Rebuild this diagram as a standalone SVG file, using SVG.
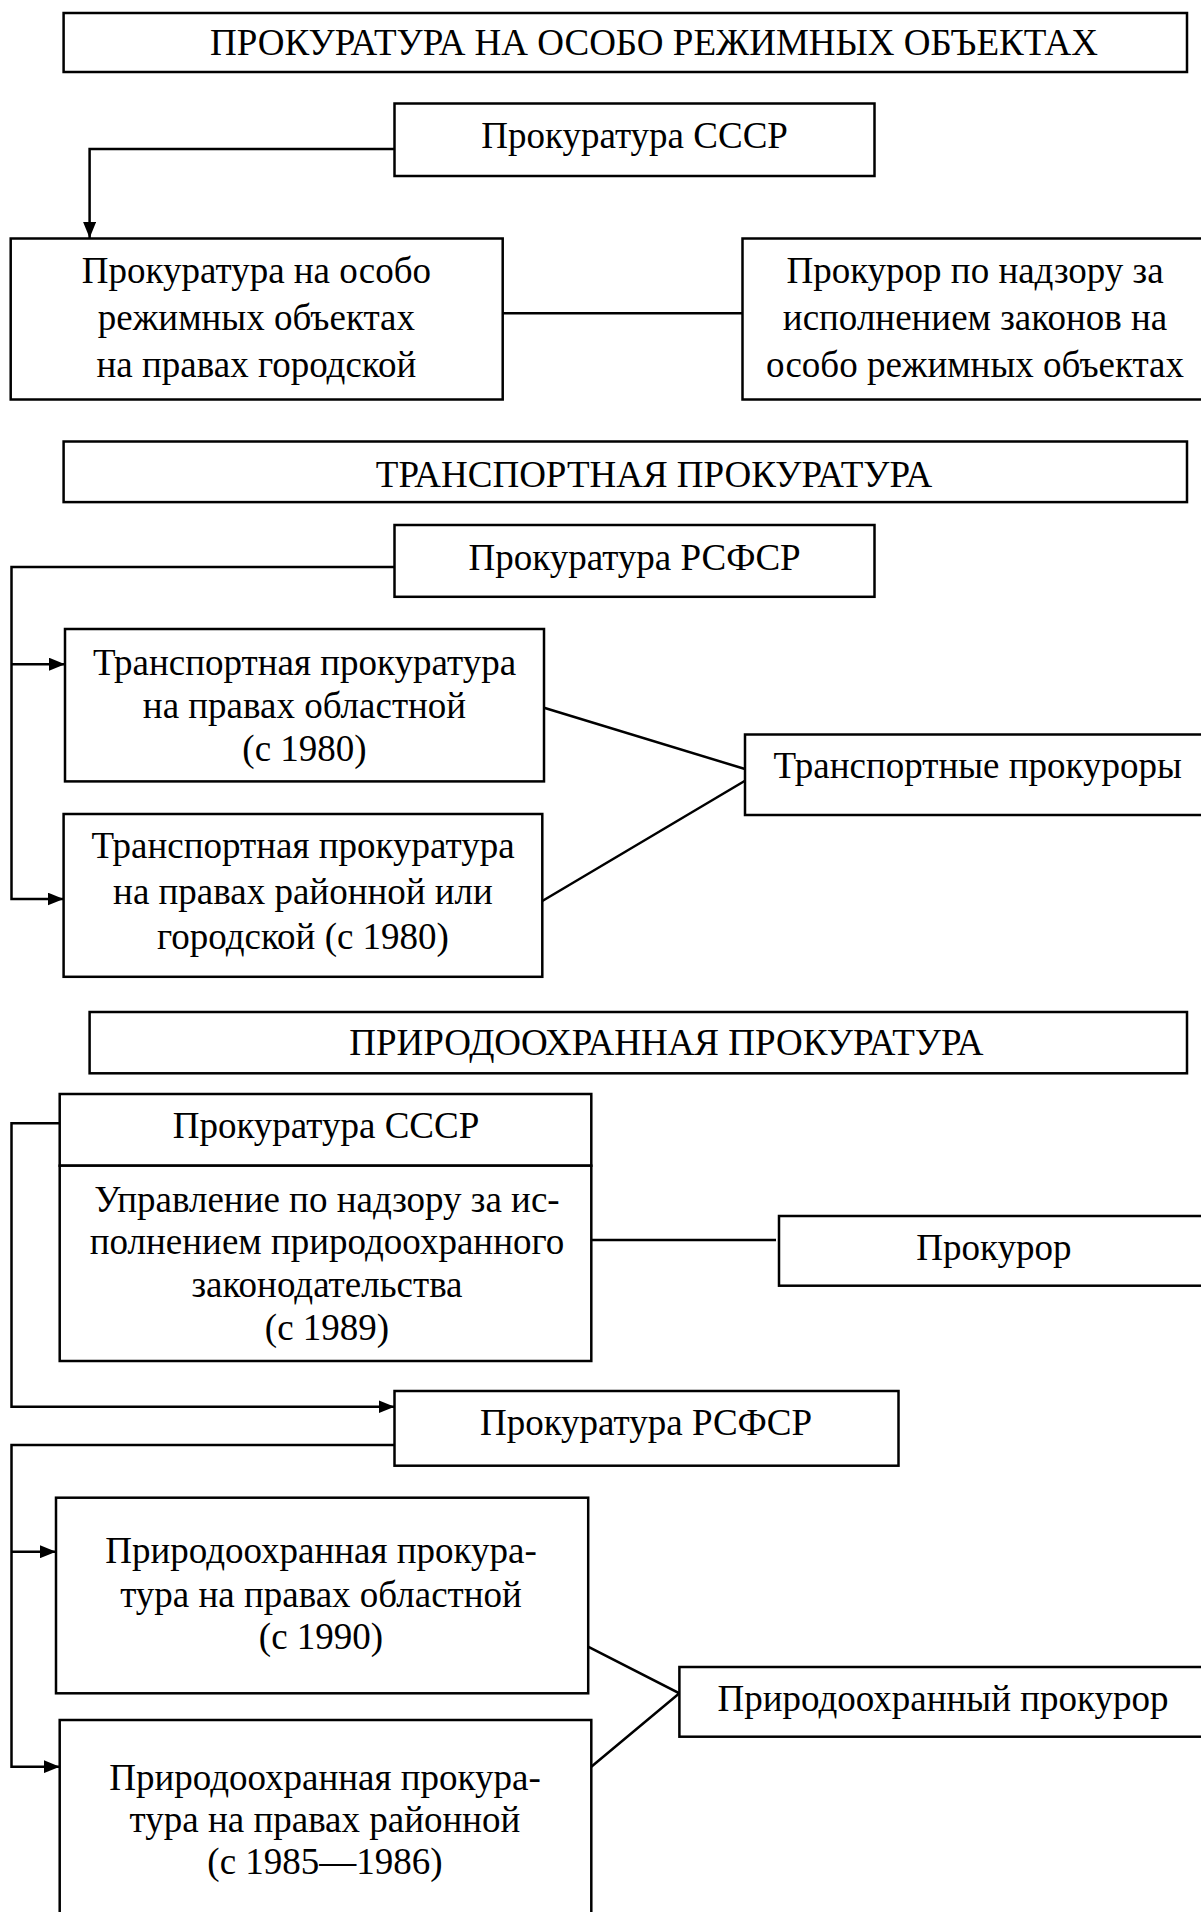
<svg xmlns="http://www.w3.org/2000/svg" width="1201" height="1912" viewBox="0 0 1201 1912">
<style>
rect{fill:#fff;stroke:#000;stroke-width:2.5}
text{font-family:"Liberation Serif","Times New Roman",serif;font-size:37px;fill:#000;text-anchor:middle}
.c{fill:none;stroke:#000;stroke-width:2.5}
</style>
<defs>
<marker id="ah" viewBox="0 0 16 13" refX="16" refY="6.5" markerWidth="16" markerHeight="13" markerUnits="userSpaceOnUse" orient="auto"><path d="M0,0 L16,6.5 L0,13 z" fill="#000"/></marker>
</defs>
<rect width="1201" height="1912" style="stroke:none"/>
<g id="connectors">
<path class="c" d="M394.5,149 H89.6 V238" marker-end="url(#ah)"/>
<path class="c" d="M502,313.3 H742"/>
<path class="c" d="M394.5,567 H11.5 V899 H63.6" marker-end="url(#ah)"/>
<path class="c" d="M11.5,664.2 H65" marker-end="url(#ah)"/>
<path class="c" d="M544,707.8 L745,769"/>
<path class="c" d="M542.3,901 L745,780.7"/>
<path class="c" d="M591.3,1240 H776"/>
<path class="c" d="M59.7,1123.3 H11.5 V1406.7 H394.5" marker-end="url(#ah)"/>
<path class="c" d="M394.5,1445 H11.5 V1766.7 H59.7" marker-end="url(#ah)"/>
<path class="c" d="M11.5,1551.7 H56" marker-end="url(#ah)"/>
<path class="c" d="M588,1646.7 L679.4,1693.3 L591.3,1766.7"/>
</g>
<g id="title1"><rect x="63.6" y="13" width="1123.4" height="59"/><text x="654" y="55">ПРОКУРАТУРА НА ОСОБО РЕЖИМНЫХ ОБЪЕКТАХ</text></g>
<g id="ussr1"><rect x="394.5" y="103.5" width="480" height="72.5"/><text x="634.6" y="148.3">Прокуратура СССР</text></g>
<g id="special"><rect x="10.7" y="238.5" width="492" height="161"/><text x="256.4" y="283.3">Прокуратура на особо</text><text x="256.4" y="330">режимных объектах</text><text x="256.4" y="376.7">на правах городской</text></g>
<g id="special-prosecutor"><rect x="742.5" y="238.5" width="470" height="161"/><text x="975" y="283.3">Прокурор по надзору за</text><text x="975" y="330">исполнением законов на</text><text x="975" y="376.7">особо режимных объектах</text></g>
<g id="title2"><rect x="63.6" y="441.5" width="1123.4" height="60.6"/><text x="654" y="486.6">ТРАНСПОРТНАЯ ПРОКУРАТУРА</text></g>
<g id="rsfsr1"><rect x="394.5" y="525" width="480" height="71.8"/><text x="634.6" y="569.8">Прокуратура РСФСР</text></g>
<g id="transport-region"><rect x="65" y="629" width="479" height="152.4"/><text x="304.5" y="675">Транспортная прокуратура</text><text x="304.5" y="718">на правах областной</text><text x="304.5" y="761">(с 1980)</text></g>
<g id="transport-district"><rect x="63.6" y="814" width="478.7" height="162.8"/><text x="303" y="858.4">Транспортная прокуратура</text><text x="303" y="904">на правах районной или</text><text x="303" y="949">городской (с 1980)</text></g>
<g id="transport-prosecutors"><rect x="745" y="734.5" width="470" height="80.5"/><text x="977.7" y="778">Транспортные прокуроры</text></g>
<g id="title3"><rect x="89.6" y="1012" width="1097.4" height="61.3"/><text x="666.4" y="1055">ПРИРОДООХРАННАЯ ПРОКУРАТУРА</text></g>
<g id="ussr2"><rect x="59.7" y="1094" width="531.6" height="71.7"/><text x="326" y="1138.3">Прокуратура СССР</text><rect x="59.7" y="1165.7" width="531.6" height="195.3"/><text x="327" y="1211.7">Управление по надзору за ис-</text><text x="327" y="1254">полнением природоохранного</text><text x="327" y="1297">законодательства</text><text x="327" y="1340">(с 1989)</text></g>
<g id="prosecutor"><rect x="779" y="1216" width="440" height="69.7"/><text x="993.8" y="1260">Прокурор</text></g>
<g id="rsfsr2"><rect x="394.5" y="1391" width="504" height="74.7"/><text x="646" y="1435">Прокуратура РСФСР</text></g>
<g id="nature-region"><rect x="56" y="1497.7" width="532.2" height="195.6"/><text x="321" y="1563.3">Природоохранная прокура-</text><text x="321" y="1606.7">тура на правах областной</text><text x="321" y="1648.5">(с 1990)</text></g>
<g id="nature-district"><rect x="59.7" y="1720" width="531.6" height="230"/><text x="325" y="1790">Природоохранная прокура-</text><text x="325" y="1831.7">тура на правах районной</text><text x="325" y="1873.5">(с 1985—1986)</text></g>
<g id="nature-prosecutor"><rect x="679.4" y="1667" width="540" height="69.7"/><text x="943" y="1710.7">Природоохранный прокурор</text></g>
</svg>
